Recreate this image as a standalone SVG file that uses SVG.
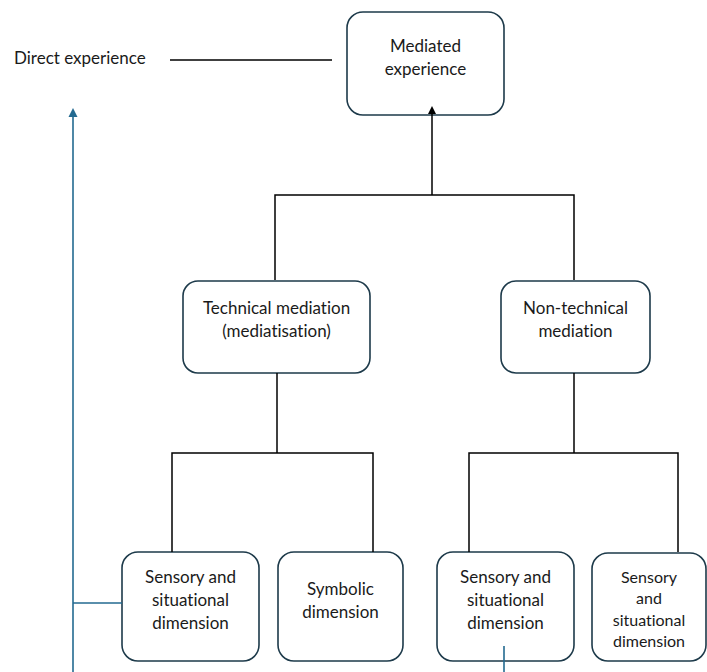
<svg xmlns="http://www.w3.org/2000/svg" width="707" height="672" viewBox="0 0 707 672">
<style>
.box{fill:#fff;stroke:#1d3a4a;stroke-width:1.6}
.t{font-family:Lato,"Open Sans",sans-serif;font-size:17px;fill:#1a1a1a;text-anchor:middle;font-variant-ligatures:none}
.s{font-size:16px}
.c{fill:none;stroke:#000;stroke-width:1.5}
.b{fill:none;stroke:#236a90;stroke-width:1.6}
</style>
<g id="direct">
<text class="t" x="14" y="64" style="text-anchor:start">Direct experience</text>
</g>
<g id="mediated">
<rect class="box" x="347" y="12" width="157" height="103" rx="16"/>
<text class="t" x="425.5" y="52">Mediated</text>
<text class="t" x="425.5" y="75">experience</text>
</g>
<g id="technical">
<rect class="box" x="183" y="281" width="187" height="92" rx="15"/>
<text class="t" x="276.5" y="314">Technical mediation</text>
<text class="t" x="276.5" y="337">(mediatisation)</text>
</g>
<g id="nontechnical">
<rect class="box" x="501" y="281" width="149" height="92" rx="15"/>
<text class="t" x="575.5" y="314">Non-technical</text>
<text class="t" x="575.5" y="337">mediation</text>
</g>
<g id="sensory1">
<rect class="box" x="122" y="552" width="137" height="109" rx="16"/>
<text class="t" x="190.5" y="583">Sensory and</text>
<text class="t" x="190.5" y="606">situational</text>
<text class="t" x="190.5" y="629">dimension</text>
</g>
<g id="symbolic">
<rect class="box" x="278" y="552" width="125" height="109" rx="16"/>
<text class="t" x="340.5" y="595">Symbolic</text>
<text class="t" x="340.5" y="618">dimension</text>
</g>
<g id="sensory2">
<rect class="box" x="437" y="552" width="137" height="109" rx="16"/>
<text class="t" x="505.5" y="583">Sensory and</text>
<text class="t" x="505.5" y="606">situational</text>
<text class="t" x="505.5" y="629">dimension</text>
</g>
<g id="sensory3">
<rect class="box" x="592" y="553" width="114" height="108" rx="16"/>
<text class="t s" x="649" y="583">Sensory</text>
<text class="t s" x="649" y="604">and</text>
<text class="t s" x="649" y="626">situational</text>
<text class="t s" x="649" y="647">dimension</text>
</g>
<g id="connectors">
<line class="c" x1="170" y1="60" x2="332" y2="60"/>
<line class="c" x1="432" y1="195" x2="432" y2="113"/>
<path d="M432,106 L428,114 L436,114 Z" fill="#000"/>
<path class="c" d="M275,280 V195 H574 V280"/>
<line class="c" x1="277" y1="373" x2="277" y2="453"/>
<path class="c" d="M172,552 V453 H373 V552"/>
<line class="c" x1="574" y1="373" x2="574" y2="453"/>
<path class="c" d="M469,552 V453 H678 V552"/>
<path class="b" d="M73,672 V116"/>
<path d="M73,108 L68.5,117 L77.5,117 Z" fill="#236a90"/>
<line class="b" x1="73" y1="603" x2="122" y2="603"/>
<line class="b" x1="504" y1="646" x2="504" y2="672"/>
</g>
</svg>
